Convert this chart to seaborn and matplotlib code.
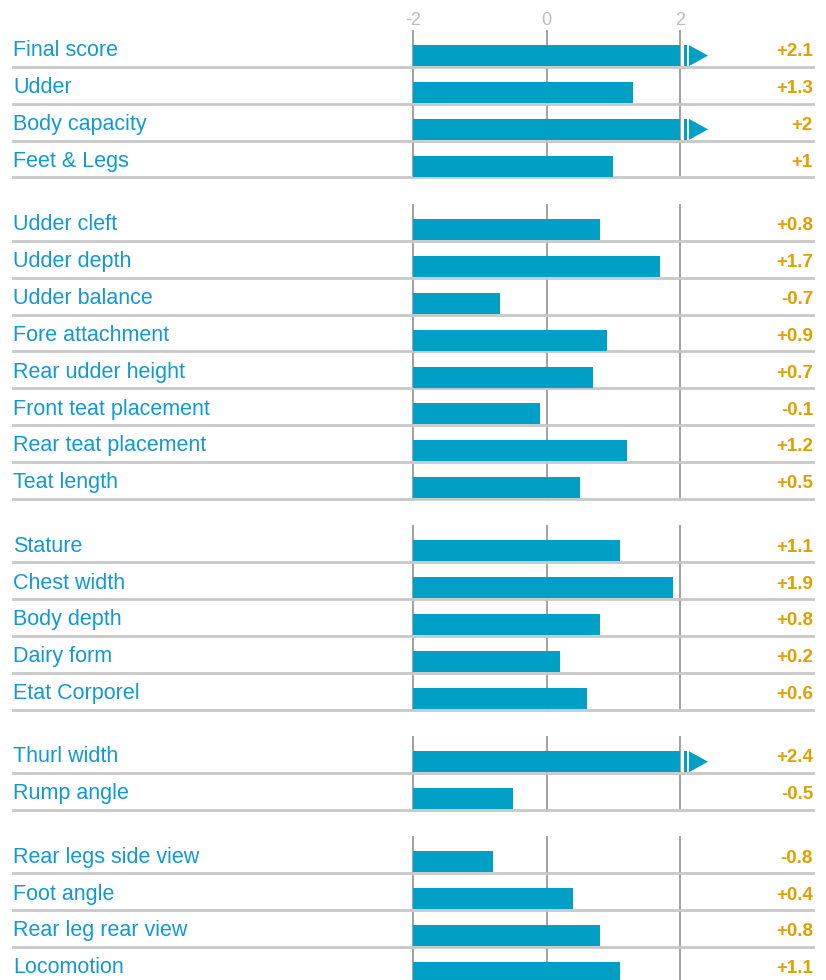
import matplotlib
matplotlib.use("Agg")
import matplotlib.pyplot as plt
import matplotlib.transforms as mtransforms
from matplotlib.patches import Polygon, Rectangle
import pandas as pd
import seaborn as sns

# --- data, one list per block of traits ---
group_labels = [
    ["Final score", "Udder", "Body capacity", "Feet & Legs"],
    ["Udder cleft", "Udder depth", "Udder balance", "Fore attachment",
     "Rear udder height", "Front teat placement", "Rear teat placement", "Teat length"],
    ["Stature", "Chest width", "Body depth", "Dairy form", "Etat Corporel"],
    ["Thurl width", "Rump angle"],
    ["Rear legs side view", "Foot angle", "Rear leg rear view", "Locomotion"],
]
group_values = [
    [2.1, 1.3, 2, 1],
    [0.8, 1.7, -0.7, 0.9, 0.7, -0.1, 1.2, 0.5],
    [1.1, 1.9, 0.8, 0.2, 0.6],
    [2.4, -0.5],
    [-0.8, 0.4, 0.8, 1.1],
]
tick_values = [-2, 0, 2]
axis_min, axis_max = -2, 2

BAR_COLOR = "#00a0c6"
LABEL_COLOR = "#1199d4"
VALUE_COLOR = "#dfa000"
SEP_COLOR = "#c8c8c8"
GRID_COLOR = "#9a9a9a"
TICK_COLOR = "#bdbdbd"

plt.rcParams["font.family"] = ["Liberation Sans", "DejaVu Sans"]

W, H = 826, 980
fig = plt.figure(figsize=(W / 100, H / 100), dpi=100)

# horizontal scale: pixels per unit and where the bar base (-2) sits
px_per_unit = 66.75
base_px = 413
u_min = -base_px / px_per_unit
u_max = u_min + W / px_per_unit

top_px = 30
row_px = 36.86
gap_px = 26.5
bar_w = 21 / row_px
sep_off = bar_w / 2 + 0.02

rows_done = 0
for g, (labels, values) in enumerate(zip(group_labels, group_values)):
    n = len(labels)
    top = top_px + rows_done * row_px + g * gap_px
    h = n * row_px
    ax = fig.add_axes([0, 1 - (top + h) / H, 1, h / H])
    ax.patch.set_alpha(0)

    df = pd.DataFrame({"label": labels, "value": values})
    # bars start at the left end of the scale and are clipped at the right end
    df["length"] = df["value"].clip(axis_min, axis_max) - axis_min
    sns.barplot(data=df, x="length", y="label", orient="h", color=BAR_COLOR,
                saturation=1, width=bar_w, linewidth=0, ax=ax, zorder=2)

    ax.set_xlim(u_min, u_max)
    ax.set_ylim(n - 1 + sep_off, -1 + sep_off)

    for t in tick_values:
        ax.axvline(t - axis_min, color=GRID_COLOR, lw=1.3, zorder=1)
    for i in range(n):
        ax.axhline(i + sep_off, xmin=13 / W, xmax=813 / W, color=SEP_COLOR, lw=2,
                   clip_on=False, zorder=1.5)

    trans = mtransforms.blended_transform_factory(ax.transAxes, ax.transData)
    for i, (lab, v) in enumerate(zip(labels, values)):
        ax.text(13 / W, i + 0.02, lab, transform=trans, ha="left", va="baseline",
                color=LABEL_COLOR, fontsize=15.5)
        ax.text(813 / W, i + 0.02, f"{v:+g}", transform=trans, ha="right",
                va="baseline", color=VALUE_COLOR, fontsize=13.5, fontweight="bold")
        if v >= axis_max:
            end = axis_max - axis_min
            y0, y1 = i - bar_w / 2, i + bar_w / 2
            ax.add_patch(Rectangle((end + 0.06, y0), 0.045, bar_w,
                                   color=BAR_COLOR, lw=0, zorder=2))
            ax.add_patch(Polygon([(end + 0.135, y0), (end + 0.135, y1),
                                  (end + 0.42, i)], closed=True,
                                 color=BAR_COLOR, lw=0, zorder=2))

    for s in ax.spines.values():
        s.set_visible(False)
    ax.set_xlabel("")
    ax.set_ylabel("")
    ax.set_yticks([])
    if g == 0:
        ax.xaxis.tick_top()
        ax.set_xticks([t - axis_min for t in tick_values])
        ax.set_xticklabels([str(t) for t in tick_values])
        ax.tick_params(axis="x", length=0, pad=1, labelsize=13, labelcolor=TICK_COLOR)
    else:
        ax.set_xticks([])

    rows_done += n

fig.savefig("out.png", dpi=100)
